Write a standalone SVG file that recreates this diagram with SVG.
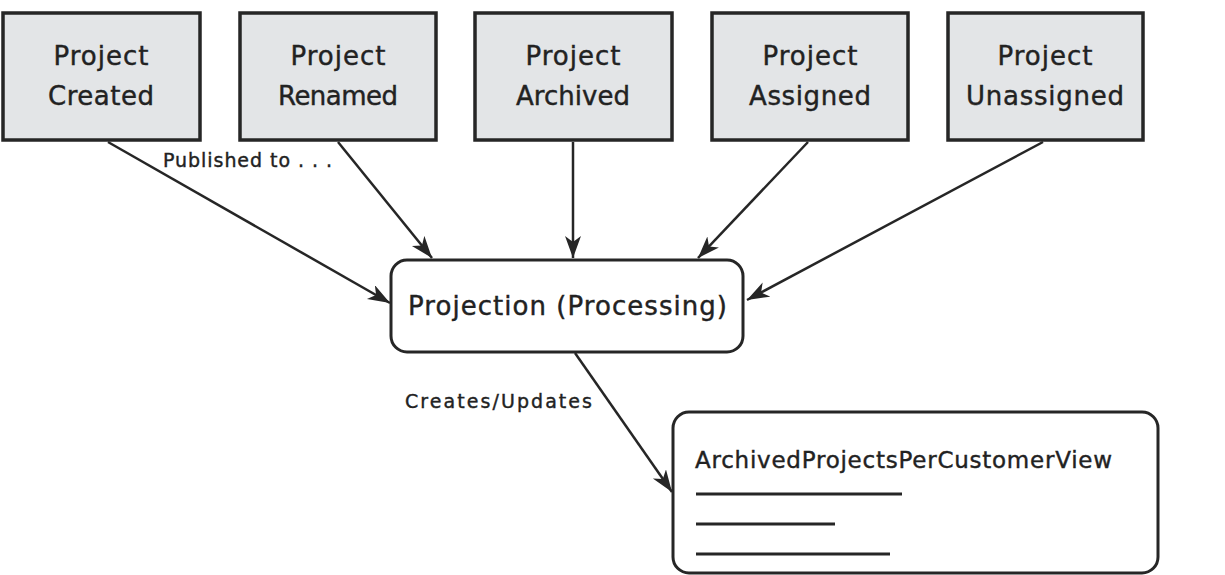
<svg xmlns="http://www.w3.org/2000/svg" width="1225" height="575" viewBox="0 0 1225 575">
<style>
.evt{fill:#e3e5e7;stroke:#262626;stroke-width:3.5}
.rbox{fill:#ffffff;stroke:#262626;stroke-width:3}
.t{font-family:"DejaVu Sans",sans-serif;fill:#222222;stroke:#222222;stroke-width:0.4}
.tb{font-size:26px;text-anchor:middle}
.lbl{font-size:19px}
.edge{stroke:#262626;stroke-width:2.5;fill:none;marker-end:url(#arr)}
.ul{stroke:#262626;stroke-width:3}
</style>
<defs>
<marker id="arr" markerUnits="userSpaceOnUse" markerWidth="24" markerHeight="18" refX="22" refY="8" orient="auto">
<path d="M0,0 L22,8 L0,16 L6,8 z" fill="#262626"/>
</marker>
</defs>
<rect width="1225" height="575" fill="#ffffff"/>
<g id="connectors">
<line class="edge" x1="108" y1="142" x2="390" y2="303"/>
<line class="edge" x1="338" y1="142" x2="432" y2="258"/>
<line class="edge" x1="573" y1="142" x2="573" y2="258"/>
<line class="edge" x1="808" y1="142" x2="698" y2="258"/>
<line class="edge" x1="1043" y1="142" x2="747" y2="300"/>
<line class="edge" x1="575" y1="353" x2="672" y2="492"/>
<text class="t lbl" x="163" y="167" textLength="169">Published to . . .</text>
<text class="t lbl" x="405" y="408" textLength="187">Creates/Updates</text>
</g>
<g id="project-created">
<rect class="evt" x="3" y="13" width="197" height="127"/>
<text class="t tb" x="101" y="65" textLength="95">Project</text>
<text class="t tb" x="101" y="105" textLength="106">Created</text>
</g>
<g id="project-renamed">
<rect class="evt" x="240" y="13" width="196" height="127"/>
<text class="t tb" x="338" y="65" textLength="95">Project</text>
<text class="t tb" x="338" y="105" textLength="120">Renamed</text>
</g>
<g id="project-archived">
<rect class="evt" x="475" y="13" width="197" height="127"/>
<text class="t tb" x="573" y="65" textLength="95">Project</text>
<text class="t tb" x="573" y="105" textLength="114">Archived</text>
</g>
<g id="project-assigned">
<rect class="evt" x="712" y="13" width="196" height="127"/>
<text class="t tb" x="810" y="65" textLength="95">Project</text>
<text class="t tb" x="810" y="105" textLength="122">Assigned</text>
</g>
<g id="project-unassigned">
<rect class="evt" x="948" y="13" width="195" height="127"/>
<text class="t tb" x="1045" y="65" textLength="95">Project</text>
<text class="t tb" x="1045" y="105" textLength="158">Unassigned</text>
</g>
<g id="projection">
<rect class="rbox" x="391" y="260" width="352" height="92" rx="16" ry="16"/>
<text class="t" x="408" y="315" font-size="26" textLength="319">Projection (Processing)</text>
</g>
<g id="view">
<rect class="rbox" x="673" y="412" width="485" height="161" rx="16" ry="16"/>
<text class="t" x="695" y="468" font-size="23" textLength="417">ArchivedProjectsPerCustomerView</text>
<line class="ul" x1="696" y1="494" x2="902" y2="494"/>
<line class="ul" x1="696" y1="524" x2="835" y2="524"/>
<line class="ul" x1="696" y1="554" x2="890" y2="554"/>
</g>
</svg>
